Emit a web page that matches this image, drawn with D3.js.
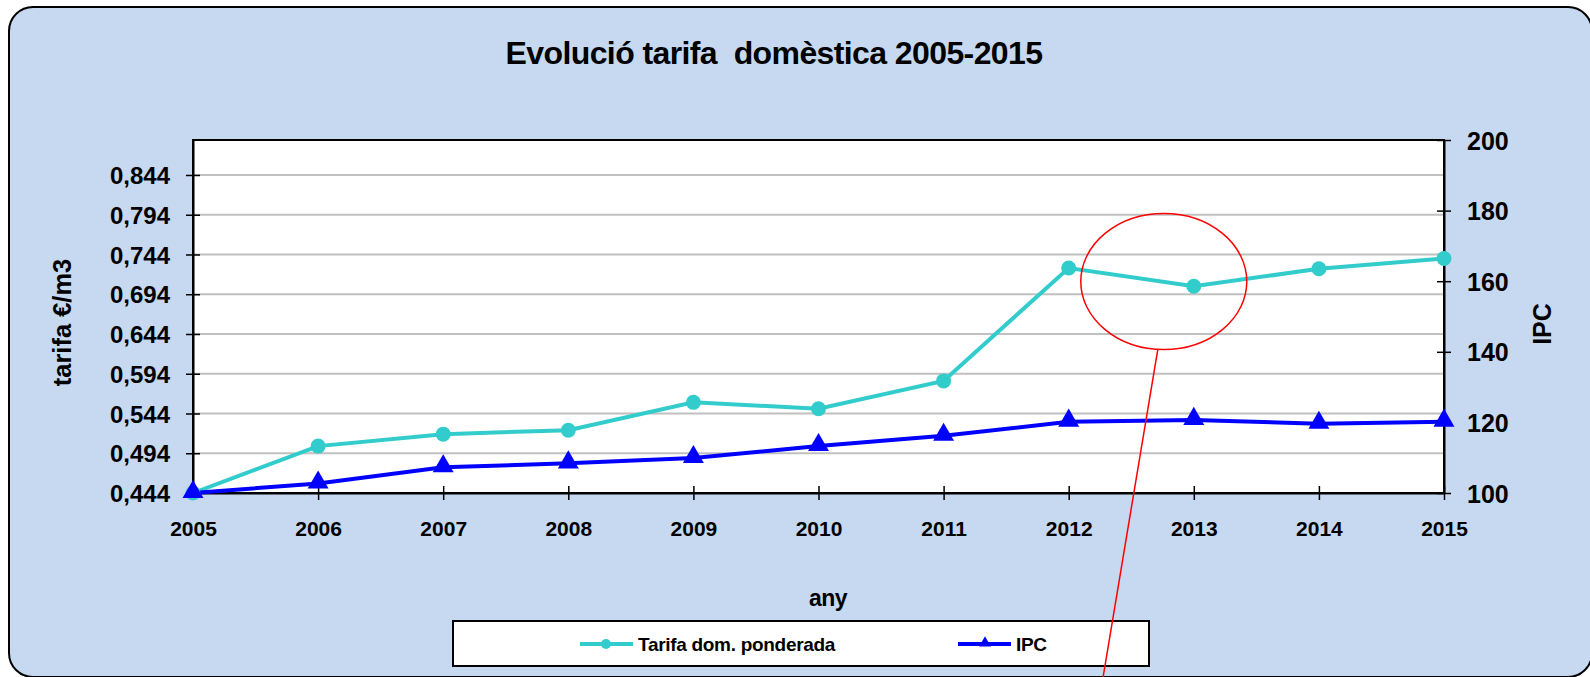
<!DOCTYPE html>
<html>
    <head>
        <meta charset="utf-8">
        <script src="https://d3js.org/d3.v7.min.js"></script>
        <title>Evolució tarifa domèstica</title>
        <style>
            body { margin: 0; background-color: #ffffff; overflow: hidden }
            text { font-family: "Liberation Sans", Arial, sans-serif; font-weight: bold; fill: #000 }
        </style>
    </head>
    <body>
        <script>
            /* data */
            const years = [2005, 2006, 2007, 2008, 2009, 2010, 2011, 2012, 2013, 2014, 2015]
            const tarifa = [0.444, 0.503, 0.518, 0.523, 0.558, 0.550, 0.585, 0.727, 0.704, 0.726, 0.739]
            const ipc = [100, 102.7, 107.3, 108.4, 109.9, 113.3, 116.2, 120.2, 120.7, 119.6, 120.2]
            const leftTicks = [0.444, 0.494, 0.544, 0.594, 0.644, 0.694, 0.744, 0.794, 0.844]
            const rightTicks = [100, 120, 140, 160, 180, 200]

            /* canvas setup */
            const width = 1590
            const height = 677
            const plot = { left: 193, right: 1444, top: 140, bottom: 493 }

            const svg = d3.select('body')
                .append('svg')
                    .attr('width', width)
                    .attr('height', height)

            const x = d3.scaleLinear().domain([2005, 2015]).range([plot.left, plot.right])
            const yL = d3.scaleLinear().domain([0.444, 0.888]).range([plot.bottom, plot.top])
            const yR = d3.scaleLinear().domain([100, 200]).range([plot.bottom, plot.top])
            const comma = d3.formatLocale({ decimal: ',', thousands: '.', grouping: [3], currency: ['', '€'] }).format('.3f')

            /* outer frame */
            svg.append('rect')
                .attr('x', 9).attr('y', 7)
                .attr('width', 1583).attr('height', 670)
                .attr('rx', 24)
                .attr('fill', '#c6d9f0')
                .attr('stroke', '#000')
                .attr('stroke-width', 2)

            svg.append('text')
                .attr('x', 774).attr('y', 64)
                .attr('text-anchor', 'middle')
                .style('font-size', '32px')
                .style('letter-spacing', '-0.6px')
                .attr('xml:space', 'preserve')
                .text('Evolució tarifa  domèstica 2005-2015')

            /* plot area */
            svg.append('rect')
                .attr('x', plot.left).attr('y', plot.top)
                .attr('width', plot.right - plot.left).attr('height', plot.bottom - plot.top)
                .attr('fill', '#fff')

            svg.append('g')
                .selectAll('line')
                .data(leftTicks.slice(1))
                .join('line')
                    .attr('x1', plot.left).attr('x2', plot.right)
                    .attr('y1', d => yL(d)).attr('y2', d => yL(d))
                    .attr('stroke', '#c0c0c0')
                    .attr('stroke-width', 2)

            svg.append('rect')
                .attr('x', plot.left).attr('y', plot.top)
                .attr('width', plot.right - plot.left).attr('height', plot.bottom - plot.top)
                .attr('fill', 'none')
                .attr('stroke', '#000')
                .attr('stroke-width', 2)

            /* axes, with ticks crossing the axis line */
            const crossTicks = (g, horizontal) => {
                g.select('.domain').attr('stroke-width', 2)
                g.selectAll('.tick line')
                    .attr('stroke-width', 1.5)
                    .attr(horizontal ? 'y1' : 'x1', -7)
                    .attr(horizontal ? 'y2' : 'x2', 7)
            }

            svg.append('g')
                .attr('transform', `translate(0,${plot.bottom})`)
                .call(d3.axisBottom(x).tickValues(years).tickFormat(d3.format('d')).tickSizeOuter(0))
                .call(g => crossTicks(g, true))
                .call(g => g.selectAll('.tick text').attr('y', 43).attr('dy', 0).style('font-size', '21px'))

            svg.append('g')
                .attr('transform', `translate(${plot.left},0)`)
                .call(d3.axisLeft(yL).tickValues(leftTicks).tickFormat(comma).tickSizeOuter(0))
                .call(g => crossTicks(g, false))
                .call(g => g.selectAll('.tick text').attr('x', -23).attr('dy', '0.36em').style('font-size', '24px'))

            svg.append('g')
                .attr('transform', `translate(${plot.right},0)`)
                .call(d3.axisRight(yR).tickValues(rightTicks).tickSizeOuter(0))
                .call(g => crossTicks(g, false))
                .call(g => g.selectAll('.tick text').attr('x', 23).attr('dy', '0.36em').style('font-size', '25px'))

            svg.selectAll('.domain').attr('stroke', '#000')
            svg.selectAll('.tick line').attr('stroke', '#000')
            svg.selectAll('.tick text').attr('font-family', null).attr('font-size', null)

            /* axis titles */
            svg.append('text')
                .attr('transform', `translate(71,${(plot.top + plot.bottom) / 2 + 6}) rotate(-90)`)
                .attr('text-anchor', 'middle')
                .style('font-size', '25.5px')
                .text('tarifa €/m3')

            svg.append('text')
                .attr('transform', `translate(1551,324) rotate(-90)`)
                .attr('text-anchor', 'middle')
                .style('font-size', '25px')
                .text('IPC')

            svg.append('text')
                .attr('x', 828).attr('y', 606)
                .attr('text-anchor', 'middle')
                .style('font-size', '23px')
                .style('letter-spacing', '-0.5px')
                .text('any')

            /* series */
            const tarifaLine = d3.line().x((d, i) => x(years[i])).y(d => yL(d))
            const ipcLine = d3.line().x((d, i) => x(years[i])).y(d => yR(d))

            svg.append('path')
                .attr('d', tarifaLine(tarifa))
                .attr('fill', 'none')
                .attr('stroke', '#33cccc')
                .attr('stroke-width', 4)

            svg.append('path')
                .attr('d', ipcLine(ipc))
                .attr('fill', 'none')
                .attr('stroke', '#0000ff')
                .attr('stroke-width', 4)

            svg.append('g')
                .selectAll('circle')
                .data(tarifa)
                .join('circle')
                    .attr('cx', (d, i) => x(years[i]))
                    .attr('cy', d => yL(d))
                    .attr('r', 7.5)
                    .attr('fill', '#33cccc')

            const tri = d3.symbol().type(d3.symbolTriangle).size(190)
            svg.append('g')
                .selectAll('path')
                .data(ipc)
                .join('path')
                    .attr('d', tri)
                    .attr('transform', (d, i) => `translate(${x(years[i])},${yR(d) - 1})`)
                    .attr('fill', '#0000ff')

            /* legend */
            const legend = svg.append('g')
            legend.append('rect')
                .attr('x', 453).attr('y', 621)
                .attr('width', 696).attr('height', 45)
                .attr('fill', '#fff')
                .attr('stroke', '#000')
                .attr('stroke-width', 2)

            const items = [
                { name: 'Tarifa dom. ponderada', color: '#33cccc', x0: 580, shape: 'circle' },
                { name: 'IPC', color: '#0000ff', x0: 958, shape: 'triangle' }
            ]
            const ly = 644
            items.forEach(it => {
                legend.append('line')
                    .attr('x1', it.x0).attr('x2', it.x0 + 53)
                    .attr('y1', ly).attr('y2', ly)
                    .attr('stroke', it.color)
                    .attr('stroke-width', 4)
                if (it.shape === 'circle') {
                    legend.append('circle')
                        .attr('cx', it.x0 + 26).attr('cy', ly).attr('r', 5)
                        .attr('fill', it.color)
                } else {
                    legend.append('path')
                        .attr('d', d3.symbol().type(d3.symbolTriangle).size(60))
                        .attr('transform', `translate(${it.x0 + 27},${ly - 1})`)
                        .attr('fill', it.color)
                }
                legend.append('text')
                    .attr('x', it.x0 + 58).attr('y', ly + 7)
                    .style('font-size', '19px')
                    .style('letter-spacing', '-0.3px')
                    .text(it.name)
            })

            /* red annotation round 2012-2013 */
            const ring = { cx: x(2012.76), cy: yL(0.71), rx: 83, ry: 68 }
            svg.append('ellipse')
                .attr('cx', ring.cx).attr('cy', ring.cy)
                .attr('rx', ring.rx).attr('ry', ring.ry)
                .attr('fill', 'none')
                .attr('stroke', '#ff0000')
                .attr('stroke-width', 1.5)

            svg.append('line')
                .attr('x1', ring.cx - 6).attr('y1', ring.cy + ring.ry)
                .attr('x2', ring.cx - 61).attr('y2', height + 2)
                .attr('stroke', '#ff0000')
                .attr('stroke-width', 1.5)
        </script>
    </body>
</html>
